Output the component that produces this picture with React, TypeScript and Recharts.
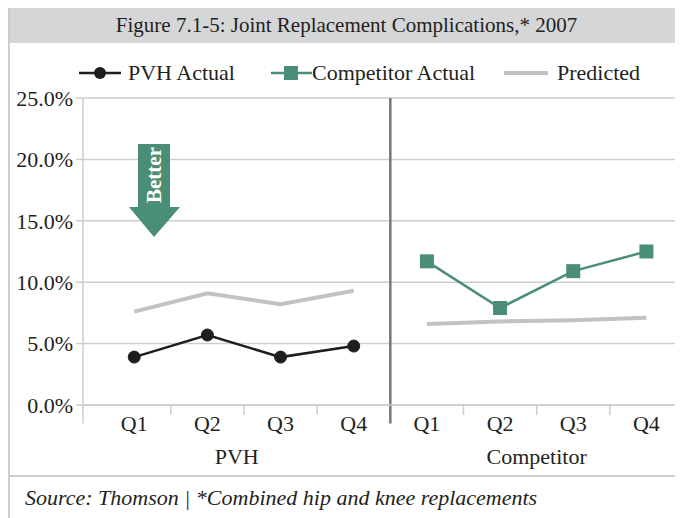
import { CartesianGrid, Line, LineChart, ReferenceLine, XAxis, YAxis } from "recharts";

// values (%)
const quarters = ["Q1", "Q2", "Q3", "Q4", "Q1", "Q2", "Q3", "Q4"];
const groups = ["PVH", "Competitor"];
const pvhActual = [3.9, 5.7, 3.9, 4.8];
const competitorActual = [11.7, 7.9, 10.9, 12.5];
const predictedPvh = [7.6, 9.1, 8.2, 9.3];
const predictedCompetitor = [6.6, 6.8, 6.9, 7.1];
const yTicks = [0, 5, 10, 15, 20, 25];

const data = quarters.map((q, i) => ({
    x: i + 1,
    quarter: q,
    pvh: i < 4 ? pvhActual[i] : null,
    comp: i >= 4 ? competitorActual[i - 4] : null,
    predPvh: i < 4 ? predictedPvh[i] : null,
    predComp: i >= 4 ? predictedCompetitor[i - 4] : null,
}));

const FONT = "'Liberation Serif', 'Times New Roman', serif";
const TEXT = "#231f20";
const GREEN = "#4b8e76";
const GRID = "#cdcdcd";
const PRED = "#c2c2c2";

const X_DOMAIN: [number, number] = [0.3, 8.5];
const PLOT_W = 600;
const UNIT = PLOT_W / (X_DOMAIN[1] - X_DOMAIN[0]);

const QuarterTick = (props: any) => {
    const { x, y, payload } = props;
    const v = payload.value as number;
    const mark = v !== 4 && v !== 8;
    return (
        <g>
            {mark && <line x1={x + UNIT / 2} x2={x + UNIT / 2} y1={y - 10} y2={y} stroke={GRID} strokeWidth={1.5} />}
            <text x={x} y={y} dy="0.71em" textAnchor="middle" fontSize={22} fill={TEXT} fontFamily={FONT}>
                {quarters[v - 1]}
            </text>
        </g>
    );
};

const SquareDot = (p: any) => {
    if (p.cy == null || p.value == null) return <g key={p.index} />;
    return <rect key={p.index} x={p.cx - 7} y={p.cy - 7} width={14} height={14} fill={GREEN} />;
};

export default function App() {
    return (
        <div style={{ position: "relative", width: 673, height: 510, borderLeft: `2px solid ${GRID}`, fontFamily: FONT, color: TEXT, background: "#fff" }}>
            <div style={{ height: 35, lineHeight: "35px", background: "#d5d6d8", textAlign: "center", fontSize: 21 }}>
                Figure 7.1-5: Joint Replacement Complications,* 2007
            </div>
            <div style={{ position: "relative", height: 432 }}>
                <div style={{ position: "absolute", top: 19, left: 0, height: 22, width: 673, fontSize: 22, lineHeight: "22px" }}>
                    <div style={{ position: "absolute", left: 69, display: "flex", alignItems: "center" }}>
                        <svg width={42} height={22}><line x1={0} x2={42} y1={11} y2={11} stroke="#1e1e1e" strokeWidth={2.5} /><circle cx={21} cy={11} r={6} fill="#1e1e1e" /></svg>
                        <span style={{ marginLeft: 7 }}>PVH Actual</span>
                    </div>
                    <div style={{ position: "absolute", left: 261, display: "flex", alignItems: "center" }}>
                        <svg width={41} height={22}><line x1={0} x2={41} y1={11} y2={11} stroke={GREEN} strokeWidth={2.5} /><rect x={13} y={4} width={14} height={14} fill={GREEN} /></svg>
                        <span>Competitor Actual</span>
                    </div>
                    <div style={{ position: "absolute", left: 494, display: "flex", alignItems: "center" }}>
                        <svg width={44} height={22}><line x1={0} x2={44} y1={11} y2={11} stroke={PRED} strokeWidth={4} /></svg>
                        <span style={{ marginLeft: 9 }}>Predicted</span>
                    </div>
                </div>
                <LineChart width={673} height={432} data={data} margin={{ top: 55, right: 0, left: 0, bottom: 0 }}>
                    <CartesianGrid vertical={false} stroke={GRID} strokeWidth={1.5} />
                    <YAxis
                        width={73}
                        domain={[0, 25]}
                        ticks={yTicks}
                        tickFormatter={(v: number) => `${v.toFixed(1)}%`}
                        tick={{ fontSize: 22, fill: TEXT, fontFamily: FONT }}
                        axisLine={{ stroke: GRID, strokeWidth: 1.5 }}
                        tickLine={{ stroke: GRID, strokeWidth: 1.5 }}
                        tickSize={7}
                        tickMargin={3}
                    />
                    <XAxis
                        dataKey="x"
                        type="number"
                        domain={X_DOMAIN}
                        allowDataOverflow
                        ticks={[1, 2, 3, 4, 5, 6, 7, 8]}
                        interval={0}
                        height={35}
                        tickSize={10}
                        tickMargin={0}
                        tickLine={false}
                        axisLine={{ stroke: GRID, strokeWidth: 1.5 }}
                        tick={<QuarterTick />}
                    />
                    <XAxis
                        xAxisId="grp"
                        dataKey="x"
                        type="number"
                        domain={X_DOMAIN}
                        allowDataOverflow
                        ticks={[2.4, 6.5]}
                        interval={0}
                        height={35}
                        axisLine={false}
                        tickLine={false}
                        tickFormatter={(v: number) => (v < 4.5 ? groups[0] : groups[1])}
                        tick={{ fontSize: 22, fill: TEXT, fontFamily: FONT }}
                    />
                    <ReferenceLine segment={[{ x: X_DOMAIN[0], y: 0 }, { x: X_DOMAIN[0], y: -1.5 }]} stroke={GRID} strokeWidth={1.5} ifOverflow="visible" />
                    <ReferenceLine segment={[{ x: 4.5, y: 25 }, { x: 4.5, y: -1.5 }]} stroke="#777" strokeWidth={2.5} ifOverflow="visible" />
                    <Line type="linear" dataKey="predPvh" stroke={PRED} strokeWidth={4} dot={false} isAnimationActive={false} />
                    <Line type="linear" dataKey="predComp" stroke={PRED} strokeWidth={4} dot={false} isAnimationActive={false} />
                    <Line type="linear" dataKey="pvh" stroke="#1e1e1e" strokeWidth={2.5} dot={{ r: 6, fill: "#1e1e1e", stroke: "#1e1e1e", strokeWidth: 1 }} isAnimationActive={false} />
                    <Line type="linear" dataKey="comp" stroke={GREEN} strokeWidth={2.5} dot={SquareDot} isAnimationActive={false} />
                </LineChart>
                <svg style={{ position: "absolute", left: 0, top: 0, pointerEvents: "none" }} width={200} height={220}>
                    <polygon points="128,101 160,101 160,164 170,164 144,194 119,164 128,164" fill={GREEN} />
                    <text x={0} y={0} transform="translate(151,132) rotate(-90)" textAnchor="middle" fontSize={21} fontWeight="bold" fill="#fff" fontFamily={FONT}>Better</text>
                </svg>
            </div>
            <div style={{ borderTop: `2px solid ${GRID}`, height: 41, lineHeight: "41px", paddingLeft: 15, fontSize: 22, fontStyle: "italic" }}>
                Source: Thomson | *Combined hip and knee replacements
            </div>
        </div>
    );
}
